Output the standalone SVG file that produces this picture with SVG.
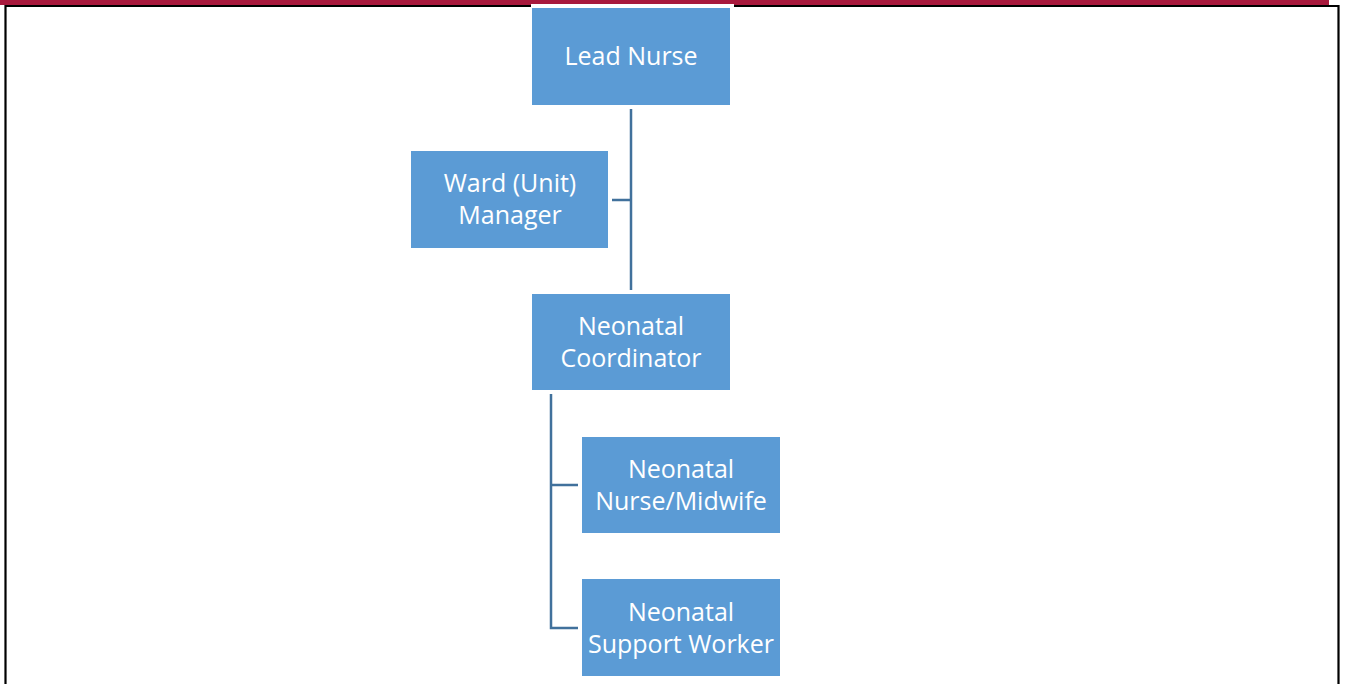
<svg xmlns="http://www.w3.org/2000/svg" width="1345" height="684" viewBox="0 0 1345 684">
<style>
.box{fill:#5B9BD5;stroke:#fff;stroke-width:1}
.t{font-family:"Open Sans","Liberation Sans",sans-serif;font-size:25px;fill:#fff;text-anchor:middle}
.c{stroke:#41719C;stroke-width:2.5;fill:none}
</style>
<rect x="0" y="0" width="1329" height="5" fill="#A8193D"/>
<path d="M5.5,684 V6 H1338.5 V684" fill="none" stroke="#000" stroke-width="2.2"/>
<rect x="531" y="4" width="203" height="4" fill="#fff"/>
<g id="connectors">
<path class="c" d="M631,109 V290 M612,200 H631"/>
<path class="c" d="M551,394 V628 H578 M551,485 H578"/>
</g>
<g id="lead"><rect class="box" x="531.5" y="7.5" width="199" height="98"/><text class="t" x="631" y="65">Lead Nurse</text></g>
<g id="ward"><rect class="box" x="410.5" y="150.5" width="198" height="98"/><text class="t" x="510" y="192">Ward (Unit)</text><text class="t" x="510" y="224">Manager</text></g>
<g id="coord"><rect class="box" x="531.5" y="293.5" width="199" height="97"/><text class="t" x="631" y="335">Neonatal</text><text class="t" x="631" y="367">Coordinator</text></g>
<g id="nurse"><rect class="box" x="581.5" y="436.5" width="199" height="97"/><text class="t" x="681" y="478">Neonatal</text><text class="t" x="681" y="510">Nurse/Midwife</text></g>
<g id="support"><rect class="box" x="581.5" y="578.5" width="199" height="98"/><text class="t" x="681" y="621">Neonatal</text><text class="t" x="681" y="653">Support Worker</text></g>
</svg>
